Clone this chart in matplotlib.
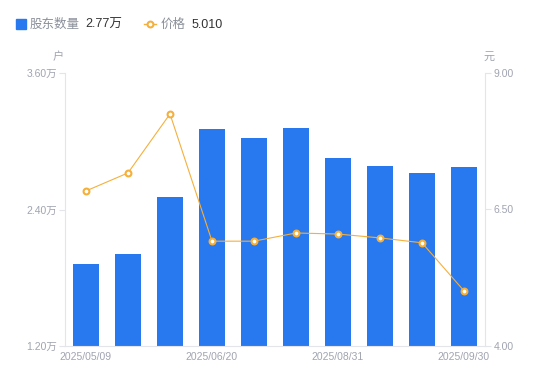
import numpy as np
import matplotlib.pyplot as plt
from matplotlib.lines import Line2D

plt.rcParams['font.family'] = ['Liberation Sans', 'Noto Sans CJK SC', 'DejaVu Sans']

dates = ['2025/05/09', '2025/05/20', '2025/06/10', '2025/06/20', '2025/07/10',
         '2025/07/31', '2025/08/31', '2025/09/10', '2025/09/19', '2025/09/30']
holders = [1.92, 2.01, 2.51, 3.11, 3.03, 3.12, 2.85, 2.78, 2.72, 2.77]  # 万户
price = [6.84, 7.17, 8.25, 5.92, 5.92, 6.07, 6.05, 5.98, 5.89, 5.01]
left_ticks = [1.2, 2.4, 3.6]
right_ticks = [4.0, 6.5, 9.0]

blue = '#2878f0'
orange = '#f5b03c'
grey = '#a0a4b0'
axis_c = '#e3e5ea'

fig = plt.figure(figsize=(5.5, 3.81), dpi=100)
ax = fig.add_axes([65 / 550, 35 / 381, 420 / 550, 273 / 381])
x = np.arange(len(dates))
ax.bar(x, holders, width=0.6, color=blue, zorder=2)
ax.set_xlim(-0.5, len(dates) - 0.5)
ax.set_ylim(left_ticks[0], left_ticks[-1])
ax.set_yticks(left_ticks)
ax.set_yticklabels([f'{v:.2f}万' for v in left_ticks])
ax.set_xticks(x[::3])
ax.set_xticklabels(dates[::3])
ax.tick_params(axis='x', length=0, pad=4, labelsize=7.5, colors=grey)
ax.tick_params(axis='y', length=4, width=0.8, color=axis_c, pad=2,
               labelsize=7.5, labelcolor=grey)
for s in ['top', 'right']:
    ax.spines[s].set_visible(False)
for s in ['left', 'bottom']:
    ax.spines[s].set_color(axis_c)
    ax.spines[s].set_linewidth(0.8)

ax2 = ax.twinx()
ax2.plot(x, price, color=orange, lw=0.8, marker='o', ms=4.2,
         mfc='white', mec=orange, mew=1.5, zorder=3)
ax2.set_ylim(right_ticks[0], right_ticks[-1])
ax2.set_yticks(right_ticks)
ax2.set_yticklabels([f'{v:.2f}' for v in right_ticks])
ax2.tick_params(axis='y', length=4, width=0.8, color=axis_c, pad=2,
                labelsize=7.5, labelcolor=grey)
for s in ['top', 'left', 'bottom']:
    ax2.spines[s].set_visible(False)
ax2.spines['right'].set_color(axis_c)
ax2.spines['right'].set_linewidth(0.8)

fig.text(58 / 550, 1 - 57 / 381, '户', fontsize=8, color=grey, ha='center', va='center')
fig.text(489 / 550, 1 - 57 / 381, '元', fontsize=8, color=grey, ha='center', va='center')

# legend row
ly = 1 - 24 / 381
ty = 1 - 28 / 381
fig.patches.append(plt.Rectangle((16 / 550, 1 - 29 / 381), 10 / 550, 10 / 381,
                                 transform=fig.transFigure, color=blue, figure=fig))
fig.text(30 / 550, ty, '股东数量', fontsize=9, color='#8a8f99', va='baseline')
fig.text(85 / 550, ty, f'{holders[-1]:.2f}万', fontsize=9, color='#333333', va='baseline')
fig.lines.append(Line2D([144 / 550, 156 / 550], [ly, ly], transform=fig.transFigure,
                        color=orange, lw=1))
fig.lines.append(Line2D([150 / 550], [ly], transform=fig.transFigure, color=orange,
                        marker='o', ms=4.2, mfc='white', mec=orange, mew=1.5))
fig.text(161 / 550, ty, '价格', fontsize=9, color='#8a8f99', va='baseline')
fig.text(192 / 550, ty, f'{price[-1]:.3f}', fontsize=9, color='#333333', va='baseline')

fig.savefig('out.png', dpi=100)
